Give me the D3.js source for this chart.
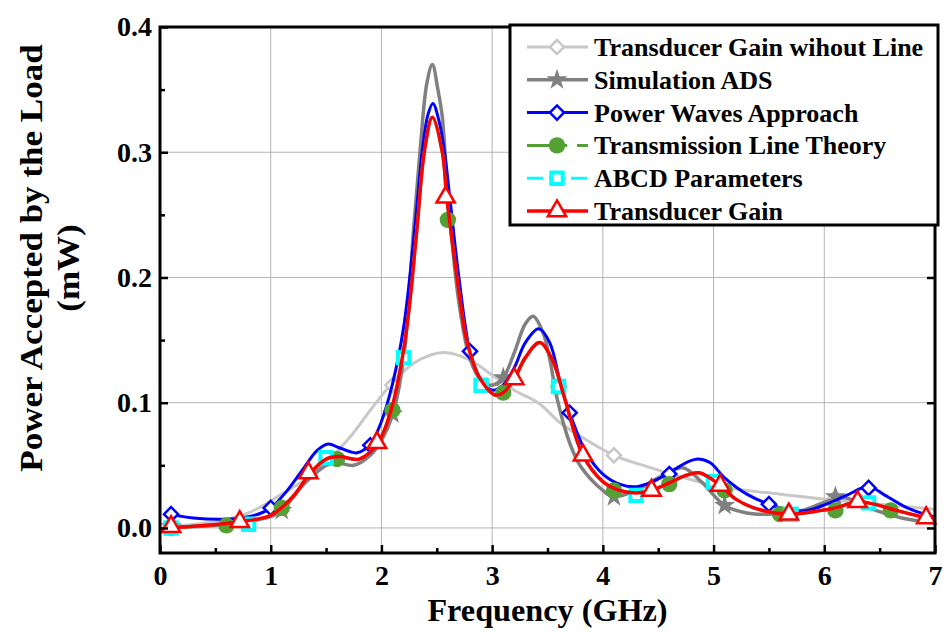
<!DOCTYPE html>
<html>
<head>
<meta charset="utf-8">
<script src="https://cdn.jsdelivr.net/npm/d3@7"></script>
<style>
  body { margin: 0; background: white; }
  text { font-family: "Liberation Serif", "Times New Roman", serif; font-weight: bold; }
</style>
</head>
<body>
<div id="canvas-div"></div>
<script>
// ---- data (frequency in GHz, power in mW) ----
const gainNoLineFreq = [0.05, 0.5, 0.8, 1.1, 1.3, 1.5, 1.72, 1.9, 2.1, 2.3, 2.56, 2.8, 3.0, 3.2, 3.43, 3.6, 3.8, 4.1, 4.4, 4.7, 5.0, 5.3, 5.6, 6.0, 6.5, 7.0];
const gainNoLineVals = [0.001, 0.005, 0.012, 0.027, 0.038, 0.052, 0.073, 0.094, 0.116, 0.132, 0.140, 0.134, 0.122, 0.110, 0.099, 0.085, 0.073, 0.058, 0.049, 0.041, 0.034, 0.030, 0.027, 0.023, 0.019, 0.015];
const gainNoLineMarkFreq = [0.1, 2.1, 4.1, 6.1];
const gainNoLineMarkVals = [0.001, 0.114, 0.058, 0.024];

const adsFreq = [0.05, 0.5, 1.0, 1.1, 1.3, 1.5, 1.6, 1.75, 1.9, 2.0, 2.1, 2.2, 2.29, 2.35, 2.41, 2.46, 2.51, 2.55, 2.6, 2.7, 2.8, 2.9, 3.0, 3.1, 3.2, 3.3, 3.37, 3.46, 3.52, 3.59, 3.7, 3.8, 4.0, 4.1, 4.3, 4.5, 4.72, 4.9, 5.1, 5.3, 5.5, 5.8, 6.05, 6.2, 6.4, 6.7, 7.0];
const adsVals = [0.001, 0.002, 0.009, 0.014, 0.035, 0.050, 0.052, 0.050, 0.058, 0.070, 0.090, 0.135, 0.238, 0.302, 0.355, 0.370, 0.350, 0.328, 0.265, 0.180, 0.135, 0.118, 0.114, 0.120, 0.140, 0.163, 0.169, 0.156, 0.135, 0.102, 0.068, 0.049, 0.030, 0.025, 0.030, 0.040, 0.048, 0.036, 0.018, 0.012, 0.011, 0.014, 0.022, 0.024, 0.016, 0.008, 0.004];
const adsMarkFreq = [0.1, 1.1, 2.1, 3.1, 4.1, 5.1, 6.1];
const adsMarkVals = [0.001, 0.014, 0.091, 0.120, 0.025, 0.018, 0.025];

const pwFreq = [0.05, 0.1, 0.3, 0.6, 0.85, 1.0, 1.15, 1.3, 1.42, 1.52, 1.62, 1.78, 1.9, 2.0, 2.1, 2.2, 2.3, 2.37, 2.42, 2.465, 2.52, 2.57, 2.62, 2.7, 2.8, 2.9, 3.0, 3.1, 3.2, 3.3, 3.42, 3.52, 3.62, 3.7, 3.85, 4.0, 4.15, 4.3, 4.45, 4.6, 4.75, 4.86, 4.97, 5.1, 5.3, 5.5, 5.7, 5.85, 6.02, 6.2, 6.4, 6.55, 6.75, 6.95, 7.0];
const pwVals = [0.013, 0.011, 0.008, 0.007, 0.010, 0.016, 0.030, 0.048, 0.062, 0.067, 0.064, 0.060, 0.067, 0.085, 0.115, 0.160, 0.238, 0.302, 0.330, 0.339, 0.325, 0.300, 0.262, 0.200, 0.141, 0.118, 0.110, 0.114, 0.128, 0.148, 0.159, 0.148, 0.114, 0.092, 0.060, 0.043, 0.035, 0.033, 0.037, 0.044, 0.052, 0.055, 0.052, 0.040, 0.027, 0.019, 0.014, 0.014, 0.019, 0.026, 0.033, 0.026, 0.016, 0.010, 0.009];
const pwMarkFreq = [0.1, 1.0, 1.9, 2.8, 3.7, 4.6, 5.5, 6.4];
const pwMarkVals = [0.011, 0.016, 0.066, 0.141, 0.092, 0.043, 0.019, 0.032];

const tgFreq = [0.05, 0.4, 0.72, 1.0, 1.2, 1.36, 1.5, 1.62, 1.8, 1.97, 2.1, 2.2, 2.25, 2.32, 2.39, 2.46, 2.55, 2.59, 2.65, 2.71, 2.77, 2.88, 3.03, 3.1, 3.2, 3.3, 3.43, 3.55, 3.65, 3.82, 4.0, 4.15, 4.3, 4.44, 4.6, 4.75, 4.87, 5.06, 5.2, 5.4, 5.68, 5.9, 6.1, 6.3, 6.45, 6.65, 6.93, 7.0];
const tgVals = [0.000, 0.002, 0.005, 0.010, 0.025, 0.044, 0.055, 0.057, 0.055, 0.068, 0.098, 0.142, 0.175, 0.238, 0.302, 0.328, 0.300, 0.264, 0.222, 0.182, 0.150, 0.121, 0.106, 0.108, 0.119, 0.136, 0.148, 0.133, 0.105, 0.058, 0.037, 0.030, 0.028, 0.030, 0.036, 0.042, 0.044, 0.034, 0.023, 0.015, 0.011, 0.013, 0.016, 0.021, 0.019, 0.014, 0.008, 0.007];
const tgMarkFreq = [0.1, 0.72, 1.34, 1.96, 2.58, 3.2, 3.82, 4.44, 5.06, 5.68, 6.3, 6.92];
const tgMarkVals = [0.001, 0.005, 0.044, 0.068, 0.264, 0.119, 0.058, 0.030, 0.034, 0.011, 0.021, 0.008];

// the transmission line and ABCD curves sit on the transducer gain curve, only markers show
const tlMarkFreq = [0.1, 0.6, 1.1, 1.6, 2.1, 2.6, 3.1, 3.6, 4.1, 4.6, 5.1, 5.6, 6.1, 6.6];
const tlMarkVals = [0.000, 0.002, 0.016, 0.055, 0.094, 0.246, 0.108, 0.113, 0.030, 0.035, 0.030, 0.011, 0.014, 0.014];
const abcdMarkFreq = [0.1, 0.8, 1.5, 2.2, 2.9, 3.6, 4.3, 5.0, 5.7, 6.4];
const abcdMarkVals = [0.000, 0.003, 0.056, 0.136, 0.114, 0.113, 0.026, 0.037, 0.011, 0.020];

const xTicks = [0, 1, 2, 3, 4, 5, 6, 7];
const yTicks = [0.0, 0.1, 0.2, 0.3, 0.4];
const xTitle = "Frequency (GHz)";
const yTitle = ["Power Accepted by the Load", "(mW)"];

const zip = (f, v) => f.map((d, i) => ({ f: d, v: v[i] }));

const series = [
    { name: "Transducer Gain wihout Line", color: "#c8c8c8", width: 3, dash: null, symbol: "diamond", fill: "white",
      line: zip(gainNoLineFreq, gainNoLineVals), marks: zip(gainNoLineMarkFreq, gainNoLineMarkVals) },
    { name: "Simulation ADS", color: "#808080", width: 3.5, dash: null, symbol: "star", fill: "#808080",
      line: zip(adsFreq, adsVals), marks: zip(adsMarkFreq, adsMarkVals) },
    { name: "Power Waves Approach", color: "#0000ff", width: 3, dash: null, symbol: "diamond", fill: "white",
      line: zip(pwFreq, pwVals), marks: zip(pwMarkFreq, pwMarkVals) },
    { name: "Transmission Line Theory", color: "#54a034", width: 3, dash: "40,10", symbol: "circle", fill: "#54a034",
      line: zip(tgFreq, tgVals), marks: zip(tlMarkFreq, tlMarkVals) },
    { name: "ABCD Parameters", color: "#00ffff", width: 3, dash: "16,6", symbol: "square", fill: "white",
      line: zip(tgFreq, tgVals), marks: zip(abcdMarkFreq, abcdMarkVals) },
    { name: "Transducer Gain", color: "#ff0000", width: 3.5, dash: null, symbol: "triangle", fill: "white",
      line: zip(tgFreq, tgVals), marks: zip(tgMarkFreq, tgMarkVals) }
];

const W = 945, H = 633;
const plot = { left: 160, right: 935, top: 27, bottom: 553 };

function symbolPath(type) {
    switch (type) {
        case "diamond": return d3.symbol().type(d3.symbolSquare).size(100)();
        case "star": return d3.symbol().type(d3.symbolStar).size(140)();
        case "circle": return d3.symbol().type(d3.symbolCircle).size(210)();
        case "square": return d3.symbol().type(d3.symbolSquare).size(130)();
        case "triangle": return d3.symbol().type(d3.symbolTriangle).size(145)();
    }
}

function drawMarker(g, s, x, y) {
    const p = g.append("path")
        .attr("d", symbolPath(s.symbol))
        .attr("transform", "translate(" + x + "," + y + ")" + (s.symbol === "diamond" ? " rotate(45)" : ""))
        .attr("fill", s.fill);
    if (s.fill === "white") {
        p.attr("stroke", s.color).attr("stroke-width", s.symbol === "square" ? 4 : 2.5);
    }
}

const svg = d3.select("#canvas-div").append("svg")
    .attr("width", W)
    .attr("height", H)
    .style("background-color", "white");

const xScale = d3.scaleLinear().domain([0, 7]).range([plot.left, plot.right]);
const yScale = d3.scaleLinear().domain([-0.02, 0.4]).range([plot.bottom, plot.top]);

// grid
svg.append("g").selectAll("line.vgrid")
    .data(xTicks.slice(1, -1)).enter().append("line")
    .attr("x1", d => xScale(d)).attr("x2", d => xScale(d))
    .attr("y1", plot.top).attr("y2", plot.bottom)
    .attr("stroke", "#b4b4b4").attr("stroke-width", 1);
svg.append("g").selectAll("line.hgrid")
    .data(yTicks.slice(0, -1)).enter().append("line")
    .attr("x1", plot.left).attr("x2", plot.right)
    .attr("y1", d => yScale(d)).attr("y2", d => yScale(d))
    .attr("stroke", "#b4b4b4").attr("stroke-width", 1);

// curves
const lineGenerator = d3.line()
    .x(d => xScale(d.f))
    .y(d => yScale(d.v))
    .curve(d3.curveCatmullRom.alpha(0.5));

series.forEach(s => {
    const g = svg.append("g");
    g.append("path")
        .datum(s.line)
        .attr("d", lineGenerator)
        .attr("fill", "none")
        .attr("stroke", s.color)
        .attr("stroke-width", s.width)
        .attr("stroke-dasharray", s.dash)
        .attr("stroke-linejoin", "round");
    s.marks.forEach(m => drawMarker(g, s, xScale(m.f), yScale(m.v)));
});

// axes, ticks pointing inward
const xAxis = d3.axisBottom(xScale).tickValues(xTicks).tickSizeInner(-8).tickSizeOuter(0).tickPadding(12).tickFormat(d3.format("d"));
const xMinor = d3.axisBottom(xScale).tickValues(d3.range(0.5, 7, 1)).tickSizeInner(-5).tickSizeOuter(0).tickFormat("");
const yAxis = d3.axisLeft(yScale).tickValues(yTicks).tickSizeInner(-8).tickSizeOuter(0).tickPadding(8).tickFormat(d3.format(".1f"));
const yMinor = d3.axisLeft(yScale).tickValues([0.05, 0.15, 0.25, 0.35]).tickSizeInner(-5).tickSizeOuter(0).tickFormat("");
const yRight = d3.axisRight(yScale).tickValues(yTicks).tickSizeInner(-8).tickSizeOuter(0).tickFormat("");

svg.append("g").attr("class", "axis").attr("transform", "translate(0," + plot.bottom + ")").call(xAxis);
svg.append("g").attr("class", "axis").attr("transform", "translate(0," + plot.bottom + ")").call(xMinor);
svg.append("g").attr("class", "axis").attr("transform", "translate(" + plot.left + ",0)").call(yAxis);
svg.append("g").attr("class", "axis").attr("transform", "translate(" + plot.left + ",0)").call(yMinor);
svg.append("g").attr("class", "axis").attr("transform", "translate(" + plot.right + ",0)").call(yRight);

svg.selectAll(".axis .domain").remove();
svg.selectAll(".axis line").attr("stroke", "black").attr("stroke-width", 2.5);
svg.selectAll(".axis text")
    .attr("fill", "black")
    .style("font-size", "28px")
    .style("font-family", "'Liberation Serif', 'Times New Roman', serif")
    .style("font-weight", "bold");

// frame
svg.append("rect")
    .attr("x", plot.left).attr("y", plot.top)
    .attr("width", plot.right - plot.left).attr("height", plot.bottom - plot.top)
    .attr("fill", "none").attr("stroke", "black").attr("stroke-width", 3);

// titles
svg.append("text")
    .attr("transform", "translate(" + (plot.left + plot.right) / 2 + ",621) scale(1.04,1)")
    .attr("text-anchor", "middle")
    .style("font-size", "31px")
    .text(xTitle);

// the original figure is a little stretched vertically
svg.append("text")
    .attr("transform", "translate(42,258) rotate(-90) scale(1.13,1)")
    .attr("text-anchor", "middle")
    .style("font-size", "31px")
    .text(yTitle[0]);
svg.append("text")
    .attr("transform", "translate(79,268) rotate(-90) scale(1.13,1)")
    .attr("text-anchor", "middle")
    .style("font-size", "31px")
    .text(yTitle[1]);

// legend
const legend = svg.append("g");
legend.append("rect")
    .attr("x", 510).attr("y", 25).attr("width", 428).attr("height", 200)
    .attr("fill", "white").attr("stroke", "black").attr("stroke-width", 3);

series.forEach((s, i) => {
    const cy = 47 + i * 32.8;
    legend.append("line")
        .attr("x1", 527).attr("x2", 588)
        .attr("y1", cy).attr("y2", cy)
        .attr("stroke", s.color).attr("stroke-width", s.width)
        .attr("stroke-dasharray", s.dash);
    drawMarker(legend, s, 557, cy);
    legend.append("text")
        .attr("x", 594).attr("y", cy + 9)
        .style("font-size", "26px")
        .text(s.name);
});
</script>
</body>
</html>
